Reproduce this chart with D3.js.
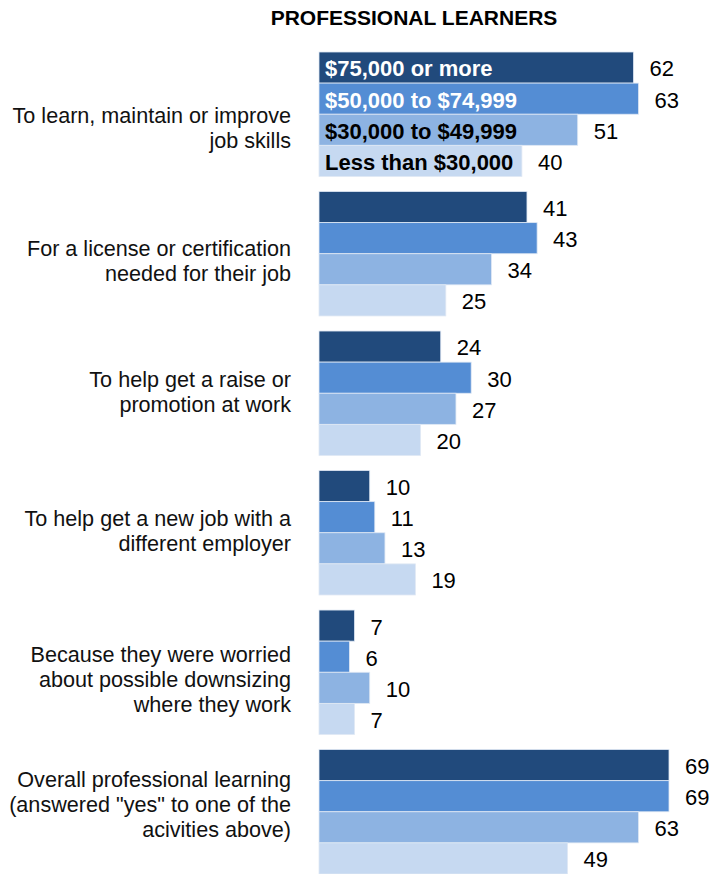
<!DOCTYPE html>
<html>
<head>
<meta charset="utf-8">
<script src="https://cdn.jsdelivr.net/npm/d3@7"></script>
<style>
  html, body { margin: 0; padding: 0; background: #fff; }
  svg { display: block; }
</style>
</head>
<body>
<script>
// Reasons for professional learning, by household income (%)
const categories = [
  ["To learn, maintain or improve", "job skills"],
  ["For a license or certification", "needed for their job"],
  ["To help get a raise or", "promotion at work"],
  ["To help get a new job with a", "different employer"],
  ["Because they were worried", "about possible downsizing", "where they work"],
  ["Overall professional learning", "(answered \"yes\" to one of the", "acivities above)"]
];
const incomeGroups = ["$75,000 or more", "$50,000 to $74,999", "$30,000 to $49,999", "Less than $30,000"];
const values75plus   = [62, 41, 24, 10, 7, 69];
const values50to75   = [63, 43, 30, 11, 6, 69];
const values30to50   = [51, 34, 27, 13, 10, 63];
const valuesUnder30  = [40, 25, 20, 19, 7, 49];
const title = "PROFESSIONAL LEARNERS";

// styling / layout
const seriesValues = [values75plus, values50to75, values30to50, valuesUnder30];
const colors = ["#214a7c", "#548dd4", "#8db3e2", "#c6d9f1"];
const legendTextColors = ["#ffffff", "#ffffff", "#000000", "#000000"];
const labelNudge = [21, 14.5, 6.5, 5.5, 15, 0]; // vertical shift of each category label block

const W = 717, H = 874;
const FONT = "'Liberation Sans', Arial, sans-serif";
const svg = d3.select("body").append("svg").attr("width", W).attr("height", H);

const x0 = 319;
const x = d3.scaleLinear().domain([0, 69]).range([x0, 669]);

const y = d3.scaleBand()
  .domain(d3.range(categories.length))
  .range([52, 874])
  .paddingInner(0.108)
  .paddingOuter(0);
const yInner = d3.scaleBand()
  .domain(d3.range(incomeGroups.length))
  .range([0, y.bandwidth()]);

svg.append("text")
  .attr("x", 414).attr("y", 25)
  .attr("text-anchor", "middle")
  .attr("font-family", FONT)
  .attr("font-weight", "bold")
  .attr("font-size", 21)
  .attr("fill", "#000")
  .text(title);

const groups = svg.selectAll("g.cat")
  .data(categories)
  .join("g")
  .attr("class", "cat")
  .attr("transform", (d, i) => `translate(0,${y(i)})`);

groups.each(function(lines, ci) {
  const g = d3.select(this);
  const rows = seriesValues.map((s, si) => ({ si, v: s[ci] }));

  g.selectAll("rect")
    .data(rows)
    .join("rect")
    .attr("x", x0)
    .attr("y", d => yInner(d.si))
    .attr("width", d => x(d.v) - x0)
    .attr("height", yInner.bandwidth())
    .attr("fill", d => colors[d.si])
    .attr("stroke", "#dfe8f4")
    .attr("stroke-width", 0.8);

  g.selectAll("text.val")
    .data(rows)
    .join("text")
    .attr("class", "val")
    .attr("x", d => x(d.v) + 16)
    .attr("y", d => yInner(d.si) + yInner.bandwidth() / 2 + 1)
    .attr("dy", "0.36em")
    .attr("font-family", FONT)
    .attr("font-size", 22)
    .attr("fill", "#000")
    .text(d => d.v);

  // category label, right-aligned beside the bars (baselines)
  const lh = 24.8;
  const mid = y.bandwidth() / 2 + labelNudge[ci];
  const lbl = g.append("text")
    .attr("text-anchor", "end")
    .attr("font-family", FONT)
    .attr("font-size", 21.6)
    .attr("fill", "#111");
  lines.forEach((t, li) => {
    lbl.append("tspan")
      .attr("x", 291)
      .attr("y", mid + (li - (lines.length - 1) / 2) * lh)
      .text(t);
  });

  // legend labels written inside the first group's bars
  if (ci === 0) {
    g.selectAll("text.leg")
      .data(incomeGroups)
      .join("text")
      .attr("class", "leg")
      .attr("x", 325)
      .attr("y", (d, i) => yInner(i) + yInner.bandwidth() / 2 + 1)
      .attr("dy", "0.36em")
      .attr("font-family", FONT)
      .attr("font-weight", "bold")
      .attr("font-size", 22)
      .attr("fill", (d, i) => legendTextColors[i])
      .text(d => d);
  }
});
</script>
</body>
</html>
